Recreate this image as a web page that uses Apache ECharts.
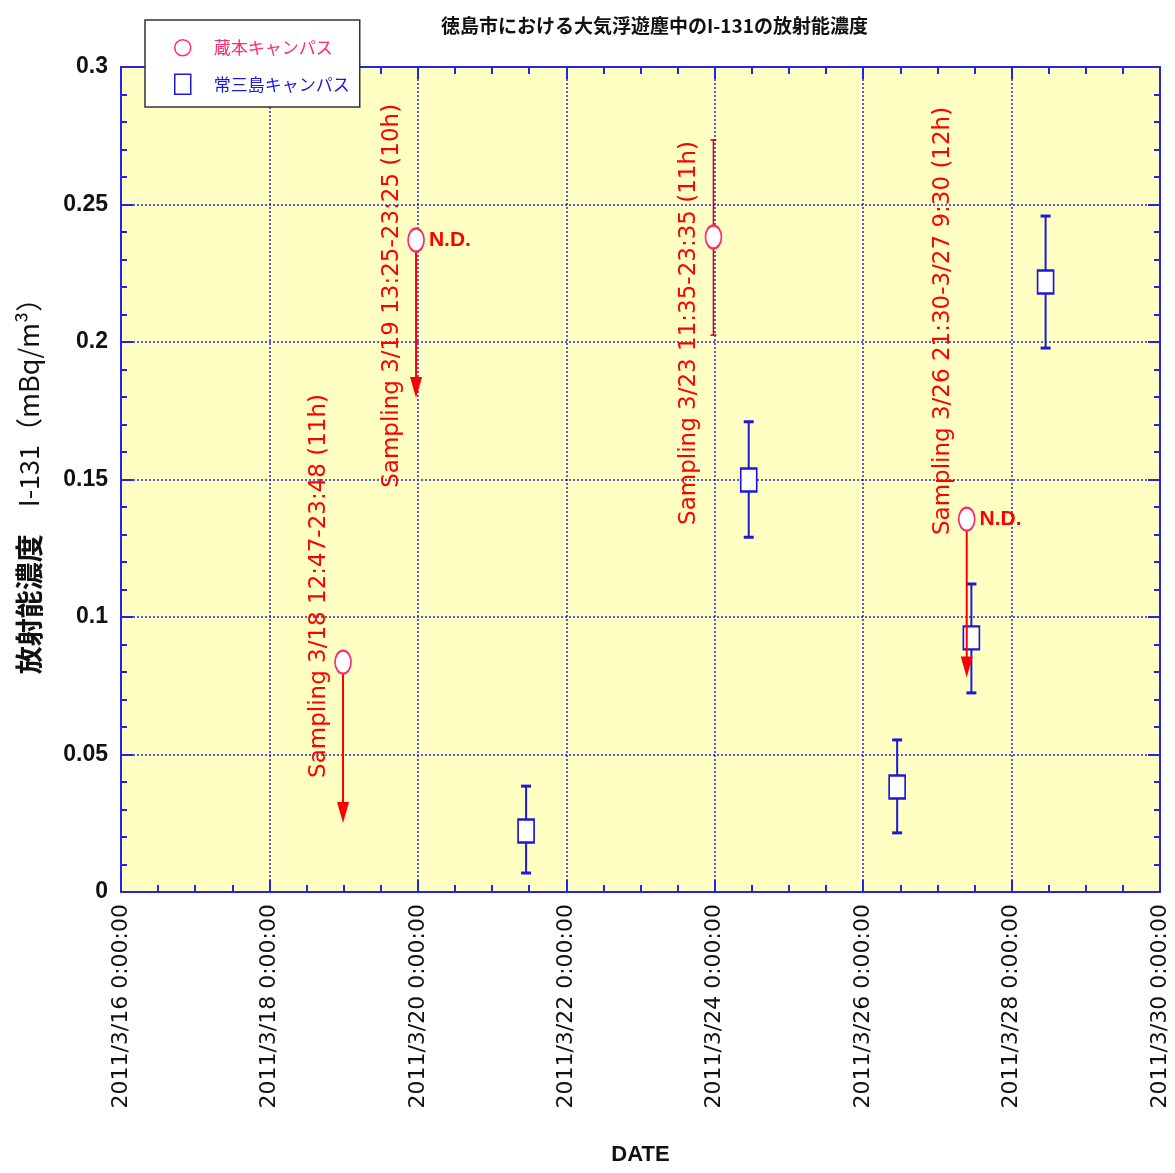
<!DOCTYPE html>
<html>
<head>
<meta charset="utf-8">
<script src="https://cdn.jsdelivr.net/npm/echarts@6/dist/echarts.min.js"></script>
<style>
html,body{margin:0;padding:0;background:#fff;}
#chart{width:1175px;height:1173px;}
</style>
</head>
<body>
<div id="chart"></div>
<script>
// ---- data ----
const startDate = '2011-03-16 00:00';
const endDate = '2011-03-30 00:00';
const xTickDays = 2;
const yTicks = [0, 0.05, 0.1, 0.15, 0.2, 0.25, 0.3];

const kuramotoName = '蔵本キャンパス';
const kuramotoDates = ['2011-03-18 23:48', '2011-03-19 23:25', '2011-03-23 23:35', '2011-03-27 09:30'];
const kuramotoValues = [0.0836, 0.2371, 0.2382, 0.1356];
const kuramotoLow = [null, null, 0.2025, null];
const kuramotoHigh = [null, null, 0.2735, null];
const kuramotoArrowTip = [0.0251, 0.1796, null, 0.078];
const kuramotoND = [false, true, false, true];

const josanjimaName = '常三島キャンパス';
const josanjimaDates = ['2011-03-21 11:00', '2011-03-24 11:00', '2011-03-26 11:00', '2011-03-27 11:00', '2011-03-28 11:00'];
const josanjimaValues = [0.0222, 0.1498, 0.0382, 0.0924, 0.2218];
const josanjimaLow = [0.0069, 0.129, 0.0215, 0.0724, 0.1978];
const josanjimaHigh = [0.0385, 0.171, 0.0553, 0.112, 0.2458];

const samplingTexts = [
  'Sampling 3/18 12:47-23:48 (11h)',
  'Sampling 3/19 13:25-23:25 (10h)',
  'Sampling 3/23 11:35-23:35 (11h)',
  'Sampling 3/26 21:30-3/27 9:30 (12h)'
];
const samplingTextBase = [0.0415, 0.147, 0.1335, 0.1298];

const titleText = '徳島市における大気浮遊塵中のI-131の放射能濃度';
const xName = 'DATE';

// ---- helpers ----
function toDays(s) {
  const p = s.split(/[- :]/).map(Number);
  const t = Date.UTC(p[0], p[1] - 1, p[2], p[3], p[4]);
  const p0 = startDate.split(/[- :]/).map(Number);
  const t0 = Date.UTC(p0[0], p0[1] - 1, p0[2], p0[3], p0[4]);
  return (t - t0) / 86400000;
}
function dayLabel(v) {
  const p0 = startDate.split(/[- :]/).map(Number);
  const d = new Date(Date.UTC(p0[0], p0[1] - 1, p0[2]) + v * 86400000);
  return d.getUTCFullYear() + '/' + (d.getUTCMonth() + 1) + '/' + d.getUTCDate() + ' 0:00:00';
}
const xMin = 0, xMax = toDays(endDate);

const RED = '#ff0000';
const PINK = '#ff2a6d';
const BLUE = '#1a1ad8';
const AXIS = '#2424e6';

const redX = kuramotoDates.map(toDays);
const blueX = josanjimaDates.map(toDays);

const chart = echarts.init(document.getElementById('chart'), null, {renderer: 'canvas'});

const baseX = {
  type: 'value', min: xMin, max: xMax, interval: xTickDays,
  axisLine: {show: true, onZero: false, lineStyle: {color: AXIS, width: 2}},
  axisTick: {show: true, inside: true, length: 12, lineStyle: {color: AXIS, width: 2}},
  minorTick: {show: true, splitNumber: 4, length: 7, lineStyle: {color: AXIS, width: 2}},
  splitLine: {show: false}
};
const baseY = {
  type: 'value', min: 0, max: 0.3, interval: 0.05,
  axisLine: {show: true, onZero: false, lineStyle: {color: AXIS, width: 2}},
  axisTick: {show: true, inside: true, length: 12, lineStyle: {color: AXIS, width: 2}},
  minorTick: {show: true, splitNumber: 5, length: 6, lineStyle: {color: AXIS, width: 2}},
  splitLine: {show: false}
};

const option = {
  backgroundColor: '#ffffff',
  animation: false,
  title: {
    text: titleText, left: 436, top: 11,
    textStyle: {fontFamily: 'Noto Sans CJK JP', fontWeight: 'bold', fontSize: 19, color: '#111'}
  },
  legend: {
    orient: 'vertical', left: 145, top: 20, width: 215,
    backgroundColor: '#ffffff', borderColor: '#333', borderWidth: 1.5, borderRadius: 0,
    padding: [19, 10, 12, 29], itemWidth: 16, itemHeight: 20, itemGap: 17,
    data: [
      {name: kuramotoName, icon: 'circle', itemStyle: {color: '#fff', borderColor: PINK, borderWidth: 1.5},
       textStyle: {color: PINK, fontSize: 17, fontFamily: 'Noto Sans CJK JP', padding: [0, 0, 0, 18]}},
      {name: josanjimaName, icon: 'rect', itemStyle: {color: '#fff', borderColor: BLUE, borderWidth: 1.5},
       textStyle: {color: BLUE, fontSize: 17, fontFamily: 'Noto Sans CJK JP', padding: [0, 0, 0, 18]}}
    ],
    selectedMode: false,
    z: 10
  },
  grid: {left: 121, right: 15, top: 67, bottom: 281, backgroundColor: '#ffffc4', show: true, borderWidth: 0},
  xAxis: [
    Object.assign({}, baseX, {
      position: 'bottom',
      name: xName, nameLocation: 'middle', nameGap: 252,
      nameTextStyle: {fontFamily: 'Liberation Sans', fontWeight: 'bold', fontSize: 22, color: '#111'},
      axisLabel: {rotate: 90, margin: 12, fontFamily: 'DejaVu Sans', fontSize: 22, color: '#111', formatter: dayLabel},
      splitLine: {show: true, lineStyle: {color: AXIS, width: 1.5, type: [2, 2]}}
    }),
    Object.assign({}, baseX, {position: 'top', axisLabel: {show: false}})
  ],
  yAxis: [
    Object.assign({}, baseY, {
      position: 'left',
      name: '{a|放射能濃度}{b|　I-131（mBq/m³）}', nameLocation: 'middle', nameGap: 78, nameRotate: 90,
      nameTextStyle: {
        rich: {
          a: {fontFamily: 'Noto Sans CJK JP', fontWeight: 'bold', fontSize: 28, color: '#111'},
          b: {fontFamily: 'Noto Sans CJK JP', fontWeight: 'normal', fontSize: 27, color: '#111'}
        }
      },
      axisLabel: {margin: 13, fontFamily: 'Liberation Sans', fontWeight: 'bold', fontSize: 23, color: '#111'},
      splitLine: {show: true, lineStyle: {color: AXIS, width: 1.5, type: [2, 2]}}
    }),
    Object.assign({}, baseY, {position: 'right', axisLabel: {show: false}})
  ],
  series: [
    {
      name: 'blueErr', type: 'custom', z: 2, silent: true,
      data: blueX.map((x, i) => [x, josanjimaLow[i], josanjimaHigh[i]]),
      renderItem: function (params, api) {
        const lo = api.coord([api.value(0), api.value(1)]);
        const hi = api.coord([api.value(0), api.value(2)]);
        const cap = 5;
        const st = {stroke: BLUE, lineWidth: 2};
        return {type: 'group', children: [
          {type: 'line', shape: {x1: lo[0], y1: lo[1], x2: hi[0], y2: hi[1]}, style: st},
          {type: 'line', shape: {x1: lo[0] - cap, y1: lo[1], x2: lo[0] + cap, y2: lo[1]}, style: {stroke: BLUE, lineWidth: 3}},
          {type: 'line', shape: {x1: hi[0] - cap, y1: hi[1], x2: hi[0] + cap, y2: hi[1]}, style: {stroke: BLUE, lineWidth: 3}}
        ]};
      }
    },
    {
      name: josanjimaName, type: 'scatter', z: 3,
      symbol: 'rect', symbolSize: [16, 23],
      itemStyle: {color: '#ffffff', borderColor: BLUE, borderWidth: 2, opacity: 1},
      data: blueX.map((x, i) => [x, josanjimaValues[i]])
    },
    {
      name: 'redErr', type: 'custom', z: 4, silent: true,
      data: redX.map((x, i) => [x, kuramotoLow[i], kuramotoHigh[i]]).filter(d => d[1] != null),
      renderItem: function (params, api) {
        const lo = api.coord([api.value(0), api.value(1)]);
        const hi = api.coord([api.value(0), api.value(2)]);
        const cap = 3;
        const st = {stroke: '#d40000', lineWidth: 1.5};
        return {type: 'group', children: [
          {type: 'line', shape: {x1: lo[0], y1: lo[1], x2: hi[0], y2: hi[1]}, style: st},
          {type: 'line', shape: {x1: lo[0] - cap, y1: lo[1], x2: lo[0] + cap, y2: lo[1]}, style: st},
          {type: 'line', shape: {x1: hi[0] - cap, y1: hi[1], x2: hi[0] + cap, y2: hi[1]}, style: st}
        ]};
      }
    },
    {
      name: 'redArrow', type: 'custom', z: 4, silent: true,
      data: redX.map((x, i) => [x, kuramotoValues[i], kuramotoArrowTip[i]]).filter(d => d[2] != null),
      renderItem: function (params, api) {
        const a = api.coord([api.value(0), api.value(1)]);
        const b = api.coord([api.value(0), api.value(2)]);
        const hw = 6, hh = 21;
        return {type: 'group', children: [
          {type: 'line', shape: {x1: a[0], y1: a[1], x2: b[0], y2: b[1] - hh + 4}, style: {stroke: RED, lineWidth: 2}},
          {type: 'polygon', shape: {points: [[b[0] - hw, b[1] - hh], [b[0] + hw, b[1] - hh], [b[0], b[1]]]}, style: {fill: RED}}
        ]};
      }
    },
    {
      name: kuramotoName, type: 'scatter', z: 5,
      symbol: 'circle', symbolSize: [16, 23],
      itemStyle: {color: '#ffffff', borderColor: PINK, borderWidth: 2, opacity: 1},
      label: {
        show: true, position: 'right', distance: 4,
        fontFamily: 'Liberation Sans', fontWeight: 'bold', fontSize: 21, color: RED,
        formatter: function (p) { return kuramotoND[p.dataIndex] ? 'N.D.' : ''; }
      },
      data: redX.map((x, i) => [x, kuramotoValues[i]])
    },
    {
      name: 'samplingText', type: 'custom', z: 6, silent: true,
      data: redX.map((x, i) => [x, samplingTextBase[i], i]),
      renderItem: function (params, api) {
        const p = api.coord([api.value(0), api.value(1)]);
        const idx = api.value(2);
        return {
          type: 'text', x: p[0] - 24, y: p[1], rotation: Math.PI / 2,
          style: {
            text: samplingTexts[idx], fill: RED,
            font: '23px "DejaVu Sans"', align: 'left', verticalAlign: 'middle'
          }
        };
      }
    }
  ]
};
chart.setOption(option);
</script>
</body>
</html>
